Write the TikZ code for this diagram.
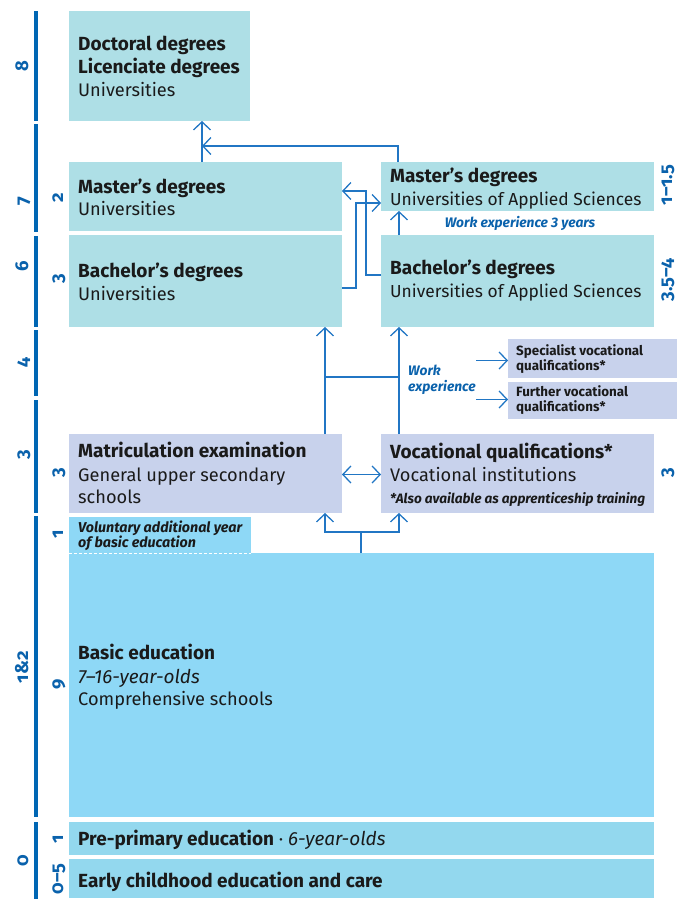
\documentclass[tikz,border=0pt]{standalone}
\usepackage{fontspec}
\setmainfont{Fira Sans}
\newfontfamily\labfont[Numbers=OldStyle]{Fira Sans}
\usetikzlibrary{arrows.meta,fit}
\definecolor{boxA}{HTML}{AEDFE6}
\definecolor{boxB}{HTML}{C8D2EC}
\definecolor{boxC}{HTML}{8ED8F6}
\definecolor{boxD}{HTML}{93D8EE}
\definecolor{lineblue}{HTML}{2176C4}
\definecolor{barblue}{HTML}{0066B3}
\definecolor{labblue}{HTML}{0A62AC}
\definecolor{ink}{HTML}{1A1A1A}
\begin{document}
\begin{tikzpicture}[x=1pt,y=-1pt,
  box/.style={inner sep=0pt,outer sep=0pt,draw=none},
  tb/.style={anchor=base west,inner sep=0pt,text=ink,font=\fontsize{19}{22}\selectfont\bfseries},
  tr/.style={anchor=base west,inner sep=0pt,text=ink,font=\fontsize{18.2}{22}\selectfont},
  tru/.style={anchor=base west,inner sep=0pt,text=ink,font=\fontsize{17.4}{22}\selectfont},
  ti/.style={anchor=base west,inner sep=0pt,text=ink,font=\fontsize{19}{22}\selectfont\itshape},
  tsb/.style={anchor=base west,inner sep=0pt,text=ink,font=\fontsize{13.4}{14}\selectfont\bfseries},
  tsi/.style={anchor=base west,inner sep=0pt,text=ink,font=\fontsize{13.6}{15}\selectfont\bfseries\itshape},
  tvi/.style={anchor=base west,inner sep=0pt,text=ink,font=\fontsize{14.3}{15}\selectfont\bfseries\itshape},
  wblue/.style={anchor=base west,inner sep=0pt,text=labblue,font=\fontsize{13.8}{15}\selectfont\bfseries\itshape},
  lab/.style={rotate=90,anchor=base,inner sep=0pt,text=labblue,font=\labfont\fontsize{18.5}{19}\selectfont\bfseries},
  bar/.style={line width=3.6pt,draw=barblue},
  conn/.style={draw=lineblue,line width=1.3pt},
  arr/.style={conn,-{Straight Barb[length=8pt,width=17pt,line width=1.3pt]}},
  arrtwo/.style={conn,{Straight Barb[length=8pt,width=17pt,line width=1.3pt]}-{Straight Barb[length=8pt,width=17pt,line width=1.3pt]}}
]
\useasboundingbox (0,0) rectangle (684,900);

% ---------- scale bars ----------
\draw[bar] (36,11) coordinate (b8a) -- (36,121) coordinate (b8b);
\draw[bar] (36,124) coordinate (b7a) -- (36,232) coordinate (b7b);
\draw[bar] (36,236) coordinate (b6a) -- (36,327) coordinate (b6b);
\draw[bar] (36,330) coordinate (b4a) -- (36,396) coordinate (b4b);
\draw[bar] (36,400) coordinate (b3a) -- (36,513) coordinate (b3b);
\draw[bar] (36,516) coordinate (b12a) -- (36,817) coordinate (b12b);
\draw[bar] (36,822) coordinate (b0a) -- (36,899) coordinate (b0b);

\node[lab] (l8) at (28,66) {8};
\node[lab] (l7) at (28,201) {7};
\node[lab] (l6) at (28,266) {6};
\node[lab] (l4) at (28,363) {4};
\node[lab] (l3) at (28,455) {3};
\node[lab] (l12) at (28,667) {1\&2};
\node[lab] (l0) at (28,861) {0};

\node[lab] (i2) at (63,198) {2};
\node[lab] (i3a) at (63,279) {3};
\node[lab] (i3b) at (63,473) {3};
\node[lab] (i1a) at (63,534) {1};
\node[lab] (i9) at (63,684) {9};
\node[lab] (i1b) at (63,839) {1};
\node[lab] (i05) at (63,879) {0–5};

\node[lab] (r1) at (672,185) {1–1.5};
\node[lab] (r2) at (672,280) {3.5–4};
\node[lab] (r3) at (672,473) {3};

% ---------- boxes ----------
\node[box,fill=boxA,fit={(69,11)(250,121)}] (doc) {};
\node[box,fill=boxA,fit={(69,162)(342,231)}] (mu) {};
\node[box,fill=boxA,fit={(69,235)(342,327)}] (bu) {};
\node[box,fill=boxA,fit={(381,162)(654,211)}] (mua) {};
\node[box,fill=boxA,fit={(381,235)(654,327)}] (bua) {};
\node[box,fill=boxB,fit={(508,339)(677,378)}] (spec) {};
\node[box,fill=boxB,fit={(508,382)(677,419)}] (fur) {};
\node[box,fill=boxB,fit={(69,434)(342,513)}] (mat) {};
\node[box,fill=boxB,fit={(381,434)(654,513)}] (voc) {};
\node[box,fill=boxC,fit={(69,517)(251,553)}] (vol) {};
\node[box,fill=boxC,fit={(69,553)(654,817)}] (basic) {};
\node[box,fill=boxD,fit={(69,822)(654,855)}] (pre) {};
\node[box,fill=boxD,fit={(69,859)(654,898)}] (ecec) {};
\draw[white,line width=1pt,dash pattern=on 3pt off 2pt] (vol.south west) -- (vol.south east);

% ---------- texts ----------
\node[tb] (docA) at (78,50) {Doctoral degrees};
\node[tb] (docB) at (78,73) {Licenciate degrees};
\node[tr] (docC) at (78,96) {Universities};

\node[tb] (muA) at (78,193) {Master’s degrees};
\node[tr] (muB) at (78,215) {Universities};

\node[tb] (buA) at (78,277) {Bachelor’s degrees};
\node[tr] (buB) at (78,300) {Universities};

\node[tb] (muaA) at (390,182) {Master’s degrees};
\node[tru] (muaB) at (390,205) {Universities of Applied Sciences};

\node[wblue,anchor=base] (we3) at (520,227) {Work experience 3 years};

\node[tb] (buaA) at (390,274) {Bachelor’s degrees};
\node[tru] (buaB) at (390,297) {Universities of Applied Sciences};

\node[wblue] (weA) at (408,375) {Work};
\node[wblue] (weB) at (408,391) {experience};

\node[tsb] (specA) at (516,355) {Specialist vocational};
\node[tsb] (specB) at (516,370) {qualifications*};
\node[tsb] (furA) at (516,396) {Further vocational};
\node[tsb] (furB) at (516,411) {qualifications*};

\node[tb] (matA) at (78,457) {Matriculation examination};
\node[tr] (matB) at (78,481) {General upper secondary};
\node[tr] (matC) at (78,503) {schools};

\node[tb] (vocA) at (390,458) {Vocational qualifications*};
\node[tr] (vocB) at (390,481) {Vocational institutions};
\node[tsi] (vocC) at (390,503) {*Also available as apprenticeship training};

\node[tvi] (volA) at (78,532) {Voluntary additional year};
\node[tvi] (volB) at (78,547) {of basic education};

\node[tb] (basA) at (78,659) {Basic education};
\node[ti] (basB) at (78,683) {7–16-year-olds};
\node[tr] (basC) at (78,705) {Comprehensive schools};

\node[tr] (preA) at (78,845) {{\fontsize{19}{22}\selectfont\bfseries Pre-primary education}\ ·\ {\fontsize{19}{22}\selectfont\itshape 6-year-olds}};
\node[tb] (ecA) at (78,887) {Early childhood education and care};

% ---------- connectors ----------
\coordinate (j1) at (202,146);
\draw[arr] ([xshift=133pt]mu.north west) -- ([xshift=133pt]doc.south west);
\draw[arr] ([xshift=17pt]mua.north west) |- (j1);

\draw[arr] ([yshift=-40pt]bua.north west) -- ++(-15,0) |- ([yshift=-29pt]mu.north east);
\draw[arr] ([yshift=-53pt]bu.north east) -- ++(14,0) |- ([yshift=-41pt]mua.north west);
\draw[arr] ([xshift=18pt]bua.north west) -- ([xshift=18pt]mua.south west);

\draw[arr] ([xshift=256pt]mat.north west) -- ([xshift=256pt]bu.south west);
\draw[arr] ([xshift=18pt]voc.north west) -- ([xshift=18pt]bua.south west);
\draw[conn] ([xshift=256pt,yshift=57pt]mat.north west) -- ([xshift=18pt,yshift=57pt]voc.north west);

\draw[arr] ([xshift=-32pt,yshift=-2pt]spec.west) -- ([yshift=-2pt]spec.west);
\draw[arr] ([xshift=-32pt,yshift=1pt]fur.west) -- ([yshift=1pt]fur.west);

\draw[arrtwo] ([yshift=-1pt]mat.east) -- ([yshift=-1pt]voc.west);

\draw[arr] ([xshift=292pt]basic.north west) -- ++(0,-21) -| ([xshift=256pt]mat.south west);
\draw[arr] ([xshift=292pt]basic.north west) -- ++(0,-21) -| ([xshift=18pt]voc.south west);
\end{tikzpicture}
\end{document}
